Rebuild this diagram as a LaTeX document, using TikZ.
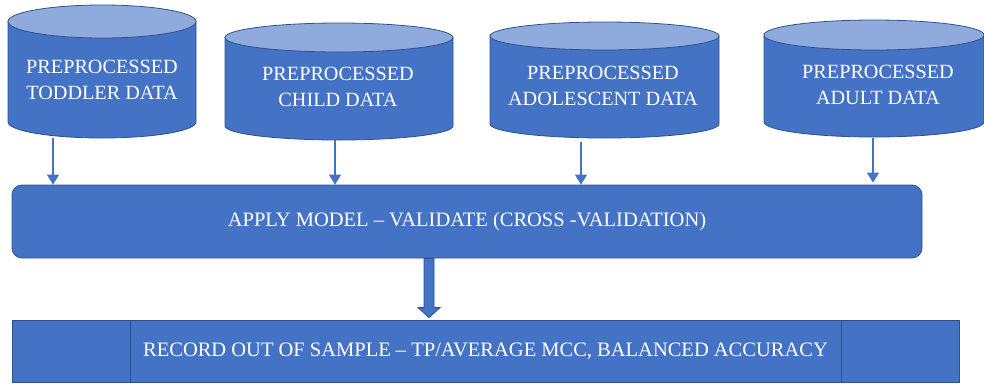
\documentclass[tikz,border=0pt]{standalone}
\usepackage{fontspec}
\setmainfont{Liberation Serif}
\usetikzlibrary{arrows.meta}
\definecolor{boxblue}{HTML}{4472C4}
\definecolor{toplight}{HTML}{8FAADC}
\definecolor{edgeblue}{HTML}{2F528F}
\tikzset{
  x=1pt, y=-1pt,
  cylbody/.style={fill=boxblue, draw=edgeblue, line width=0.8pt},
  cyltop/.style={fill=toplight, draw=edgeblue, line width=0.8pt},
  cyltext/.style={text=white, font=\fontsize{20.2}{25.5}\selectfont, align=center, inner sep=0pt},
  flowbox/.style={fill=boxblue, draw=edgeblue, line width=0.8pt, text=white, font=\fontsize{20.5}{24}\selectfont, inner sep=0pt},
  thinarrow/.style={draw=boxblue, line width=1.2pt, -{Triangle[width=12pt,length=10pt]}},
  fatarrow/.style={fill=boxblue, draw=edgeblue, line width=0.8pt}
}
% #1 name, #2 left, #3 right, #4 top center y, #5 top ry, #6 bottom center y, #7 bottom ry
\newcommand{\mycyl}[7]{%
  \path[cylbody] (#2,#4) -- (#2,#6)
    arc[start angle=180, end angle=360, x radius={(#3-#2)/2}, y radius=-#7] -- (#3,#4) -- cycle;
  \path[cyltop] ({(#2+#3)/2},#4) ellipse[x radius={(#3-#2)/2}, y radius=#5];
  \coordinate (#1b) at ({(#2+#3)/2},{#6+#7});
}
\begin{document}
\begin{tikzpicture}
\useasboundingbox (0,0) rectangle (984,383);
\mycyl{c1}{8}{196}{21.5}{16.5}{122}{16}
\mycyl{c2}{225}{453}{37.5}{14.5}{126}{14}
\mycyl{c3}{490}{719}{36}{14}{124}{14}
\mycyl{c4}{764}{984}{35}{15}{122}{15}
\node[cyltext] (t1) at (102,80) {PREPROCESSED\\TODDLER DATA};
\node[cyltext] (t2) at (338,87) {PREPROCESSED\\CHILD DATA};
\node[cyltext] (t3) at (603,86) {PREPROCESSED\\ADOLESCENT DATA};
\node[cyltext] (t4) at (878,85) {PREPROCESSED\\ADULT DATA};
\node[flowbox, rounded corners=10pt, minimum width=910pt, minimum height=73pt] (mid) at (467,221.5) {APPLY MODEL – VALIDATE (CROSS -VALIDATION)};
\node[flowbox, minimum width=947pt, minimum height=62pt] (rec) at (485.5,351) {RECORD OUT OF SAMPLE – TP/AVERAGE MCC, BALANCED ACCURACY};
\draw[edgeblue, line width=0.8pt] (130,320) -- (130,382) (841,320) -- (841,382);
\coordinate (a1) at (53,138);
\coordinate (a2) at (335,140);
\coordinate (a3) at (581,142);
\coordinate (a4) at (873,138);
\draw[thinarrow] (a1) -- (a1 |- mid.north);
\draw[thinarrow] (a2) -- (a2 |- mid.north);
\draw[thinarrow] (a3) -- (a3 |- mid.north);
\draw[thinarrow] (a4) -- ([yshift=2pt]a4 |- mid.north);
\coordinate (fa) at (429,258);
\path[fatarrow] ([xshift=-5pt]fa |- mid.south) -- ([xshift=-5pt,yshift=12pt]fa |- rec.north)
  -- ([xshift=-11pt,yshift=12pt]fa |- rec.north) -- ([yshift=2pt]fa |- rec.north)
  -- ([xshift=11pt,yshift=12pt]fa |- rec.north) -- ([xshift=5pt,yshift=12pt]fa |- rec.north)
  -- ([xshift=5pt]fa |- mid.south) -- cycle;
\end{tikzpicture}
\end{document}
